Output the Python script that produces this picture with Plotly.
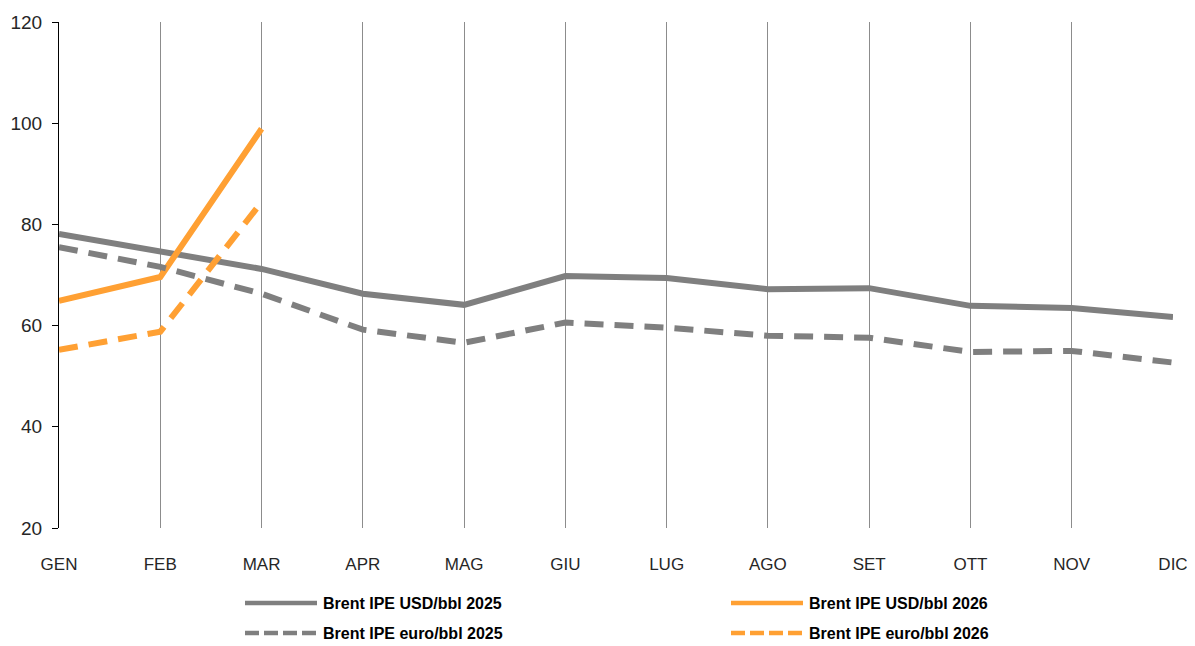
import plotly.graph_objects as go

months = ["GEN", "FEB", "MAR", "APR", "MAG", "GIU", "LUG", "AGO", "SET", "OTT", "NOV", "DIC"]
usd_2025 = [78.1, 74.7, 71.2, 66.3, 64.1, 69.8, 69.4, 67.2, 67.4, 63.9, 63.5, 61.7]
eur_2025 = [75.5, 71.6, 66.3, 59.2, 56.6, 60.6, 59.6, 58.0, 57.6, 54.8, 55.0, 52.7]
usd_2026 = [64.9, 69.6, 98.9]
eur_2026 = [55.2, 58.8, 84.4]
series_names = ["Brent IPE USD/bbl 2025", "Brent IPE USD/bbl 2026",
                "Brent IPE euro/bbl 2025", "Brent IPE euro/bbl 2026"]

GRAY = "#7f7f7f"
ORANGE = "#FFA033"
DASH = "19px,11px"

# page body has an 8px margin
OFF = 8
W, H = 1195 - 2 * OFF, 646 - OFF
PLOT_L, PLOT_R, PLOT_T, PLOT_B = 59, 1173, 22, 528   # target screen pixels
ML, MT = PLOT_L - OFF, PLOT_T - OFF
MR = W - (PLOT_R - OFF)
MB = H - (PLOT_B - OFF)
PW, PH = W - ML - MR, H - MT - MB


def px_x(px):
    return (px - PLOT_L) / PW


def px_y(py):
    return (PLOT_B - py) / PH


fig = go.Figure()
fig.add_trace(go.Scatter(x=months, y=usd_2025, mode="lines", name=series_names[0],
                         line=dict(color=GRAY, width=6)))
fig.add_trace(go.Scatter(x=months[:3], y=usd_2026, mode="lines", name=series_names[1],
                         line=dict(color=ORANGE, width=6)))
fig.add_trace(go.Scatter(x=months, y=eur_2025, mode="lines", name=series_names[2],
                         line=dict(color=GRAY, width=6, dash=DASH)))
fig.add_trace(go.Scatter(x=months[:3], y=eur_2026, mode="lines", name=series_names[3],
                         line=dict(color=ORANGE, width=6, dash=DASH)))

# legend (drawn as samples + labels, two columns x two rows)
legend_items = [
    (series_names[0], GRAY, "solid", 245, 603),
    (series_names[1], ORANGE, "solid", 731, 603),
    (series_names[2], GRAY, "14px,5px", 245, 633),
    (series_names[3], ORANGE, "14px,5px", 731, 633),
]
shapes = []
annotations = []
for name, col, dash, x0, yc in legend_items:
    shapes.append(dict(type="line", xref="paper", yref="paper",
                       x0=px_x(x0), x1=px_x(x0 + 72), y0=px_y(yc), y1=px_y(yc),
                       line=dict(color=col, width=4.5, dash=dash)))
    annotations.append(dict(xref="paper", yref="paper", x=px_x(x0 + 76), y=px_y(yc),
                            xanchor="left", yanchor="middle", showarrow=False,
                            text=name,
                            font=dict(family="Liberation Sans, Arial", size=16,
                                      color="#000", weight="bold")))

fig.update_layout(
    width=W, height=H,
    margin=dict(l=ML, r=MR, t=MT, b=MB, autoexpand=False),
    plot_bgcolor="white", paper_bgcolor="white",
    font=dict(family="Liberation Sans, Arial", size=17, color="#262626"),
    showlegend=False,
    shapes=shapes,
    annotations=annotations,
    xaxis=dict(
        type="category", range=[0, 11], showgrid=True, gridcolor="#8c8c8c", gridwidth=1,
        showline=False, zeroline=False, ticks="outside", ticklen=21, tickcolor="rgba(0,0,0,0)",
        tickfont=dict(size=17, color="#262626"),
    ),
    yaxis=dict(
        range=[20, 120], dtick=20, showgrid=False, zeroline=False,
        showline=True, linecolor="#000", linewidth=1,
        ticks="outside", ticklen=6, tickcolor="#000", ticklabelstandoff=6,
        tickfont=dict(size=19, color="#262626"),
    ),
)
fig.write_html("out.html")
